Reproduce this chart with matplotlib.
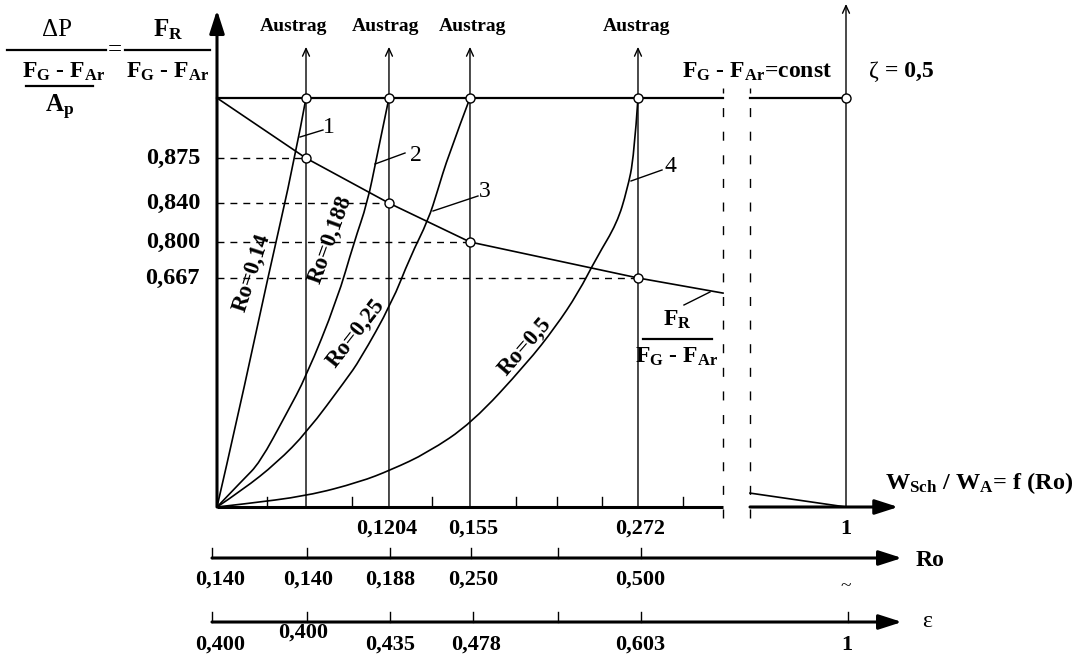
import numpy as np
import matplotlib.pyplot as plt
from matplotlib.path import Path
from matplotlib.patches import PathPatch

plt.rcParams['font.family'] = 'Liberation Serif'
plt.rcParams['mathtext.fontset'] = 'custom'
plt.rcParams['mathtext.rm'] = 'Liberation Serif'
plt.rcParams['mathtext.it'] = 'Liberation Serif:italic'
plt.rcParams['mathtext.bf'] = 'Liberation Serif:bold'

# Schema-Einheiten: x = 0 an der Ordinate, x = 1 bei W_Sch/W_A = 1
#                   y = 0 an der Abszisse, y = 1 bei F_G - F_Ar = const

# Austrag-Linien (Spalten) und Verhaeltnis-Werte
col_x = [0.1415, 0.2734, 0.4022, 0.6693]
ratio_labels = ['0,875', '0,840', '0,800', '0,667']
ratio_y = [0.853, 0.743, 0.648, 0.560]

# Kurve F_R / (F_G - F_Ar)
fr_x = [0.0, 0.1415, 0.2734, 0.4022, 0.6693, 0.8045]
fr_y = [1.0, 0.853, 0.743, 0.648, 0.560, 0.523]
fr2_x = [0.8474, 1.0]
fr2_y = [0.034, 0.0]

# Kurven W_Sch/W_A = f(Ro)
ro014_x = [0.0, 0.032, 0.080, 0.124, 0.1415]
ro014_y = [0.0, 0.213, 0.555, 0.853, 1.0]
ro0188_x = [0.0, 0.041, 0.068, 0.111, 0.1415, 0.191, 0.218, 0.239, 0.254, 0.2734]
ro0188_y = [0.0, 0.066, 0.108, 0.230, 0.318, 0.506, 0.648, 0.743, 0.856, 1.0]
ro025_x = [0.0, 0.041, 0.095, 0.143, 0.205, 0.227, 0.278, 0.307, 0.336, 0.351, 0.367, 0.4022]
ro025_y = [0.0, 0.042, 0.108, 0.183, 0.311, 0.359, 0.499, 0.611, 0.702, 0.775, 0.856, 1.0]
ro05_x = [0.0, 0.041, 0.143, 0.227, 0.277, 0.334, 0.405, 0.493, 0.538, 0.574, 0.604,
          0.636, 0.652, 0.663, 0.6693]
ro05_y = [0.0, 0.007, 0.027, 0.061, 0.091, 0.132, 0.205, 0.352, 0.440, 0.523, 0.611,
          0.694, 0.775, 0.856, 1.0]

# Achsen-Beschriftungen
w_ticks = [0.0795, 0.2146, 0.3418, 0.4754, 0.5405, 0.6121, 0.7409]
w_labels = ['0,1204', '0,155', '0,272', '1']
w_label_x = [0.2703, 0.407, 0.6725, 1.0]
ro_ticks = [-0.008, 0.1431, 0.2750, 0.4038, 0.5421, 0.6741]
ro_labels = ['0,140', '0,140', '0,188', '0,250', '0,500']
ro_label_x = [0.005, 0.1447, 0.275, 0.407, 0.6725]
eps_ticks = [-0.008, 0.1431, 0.2750, 0.4070, 0.5421, 0.6741, 1.003]
eps_labels = ['0,400', '0,400', '0,435', '0,478', '0,603', '1']
eps_label_x = [0.005, 0.137, 0.275, 0.412, 0.6725, 1.002]

fig = plt.figure(figsize=(10.88, 6.62), dpi=100)
ax = fig.add_axes([217 / 1088, 155 / 662, 629 / 1088, 409 / 662])
ax.set_xlim(0, 1)
ax.set_ylim(0, 1)
ax.set_axis_off()

k = 'black'
thin = 1.0
bold = dict(fontweight='bold')
big_head = '-|>,head_length=1.4,head_width=0.45'
small_head = '->,head_length=0.55,head_width=0.25'


def arrow(x0, y0, x1, y1, lw, style):
    ax.annotate('', xy=(x1, y1), xytext=(x0, y0), annotation_clip=False,
                arrowprops=dict(arrowstyle=style, lw=lw, color=k,
                                shrinkA=0, shrinkB=0))


def smooth_curve(xs, ys, lw=1.2):
    # glatter Linienzug: Stuetzpunkte als Kontrollpunkte quadratischer Bezier-Stuecke
    p = list(zip(xs, ys))
    verts = [p[0]]
    codes = [Path.MOVETO]
    for i in range(1, len(p) - 1):
        if i < len(p) - 2:
            end = ((p[i][0] + p[i + 1][0]) / 2, (p[i][1] + p[i + 1][1]) / 2)
        else:
            end = p[-1]
        verts += [p[i], end]
        codes += [Path.CURVE3, Path.CURVE3]
    ax.add_patch(PathPatch(Path(verts, codes), fill=False, ec=k, lw=lw, clip_on=False))


# Ordinate und Abszissen
arrow(0, 0, 0, 1.215, 2.2, big_head)
ax.plot([0, 0.8045], [0, 0], color=k, lw=2.2, clip_on=False, solid_capstyle='butt')
arrow(0.8474, 0, 1.083, 0, 2.2, big_head)
arrow(-0.008, -0.1247, 1.089, -0.1247, 2.2, big_head)
arrow(-0.008, -0.2812, 1.089, -0.2812, 2.2, big_head)

for t in w_ticks:
    ax.plot([t, t], [0, 0.025], color=k, lw=thin, clip_on=False)
for t in ro_ticks:
    ax.plot([t, t], [-0.1247, -0.1], color=k, lw=thin, clip_on=False)
for t in eps_ticks:
    ax.plot([t, t], [-0.2812, -0.2565], color=k, lw=thin, clip_on=False)

# Linie F_G - F_Ar = const
ax.plot([0, 0.8045], [1, 1], color=k, lw=1.6, clip_on=False)
ax.plot([0.8474, 1.0], [1, 1], color=k, lw=1.6, clip_on=False)

# Austrag-Linien
for x in col_x:
    arrow(x, 0, x, 1.125, thin, small_head)
arrow(1.0, 0, 1.0, 1.23, thin, small_head)

# Unterbrechung
for x in [0.8045, 0.8474]:
    ax.plot([x, x], [-0.027, 1.0244], color=k, lw=thin, dashes=(6.5, 10.5), clip_on=False)

# Gestrichelte Hilfslinien
for x, y, lab in zip(col_x, ratio_y, ratio_labels):
    ax.plot([0, x], [y, y], color=k, lw=thin, dashes=(5, 4.3), clip_on=False)
    ax.text(-0.027, y, lab, ha='right', va='center', fontsize=17.5, **bold)

# Kurven
ax.plot(fr_x, fr_y, color=k, lw=1.2, clip_on=False)
ax.plot(fr2_x, fr2_y, color=k, lw=1.2, clip_on=False)
for cx, cy in [(ro014_x, ro014_y), (ro0188_x, ro0188_y), (ro025_x, ro025_y), (ro05_x, ro05_y)]:
    smooth_curve(cx, cy)

# Punkte
ax.plot(col_x + [1.0], [1.0] * 5, 'o', ms=6.5, mfc='white', mec=k, mew=1.0,
        clip_on=False, zorder=5)
ax.plot(col_x, ratio_y, 'o', ms=6.5, mfc='white', mec=k, mew=1.0,
        clip_on=False, zorder=5)

# Beschriftungen oben
for x in [0.1224, 0.2687, 0.407, 0.6677]:
    ax.text(x, 1.1736, 'Austrag', ha='center', va='center', fontsize=14, **bold)
ax.text(0.858, 1.064, r'$\mathbf{F_G}$ - $\mathbf{F_{Ar}}$=const', ha='center',
        va='center', fontsize=17, **bold)
ax.text(1.0366, 1.064, 'ζ', ha='left', va='center', fontsize=17)
ax.text(1.062, 1.064, '= 0,5', ha='left', va='center', fontsize=17, **bold)

# Formel links oben
ax.text(-0.2544, 1.1663, 'ΔP', ha='center', va='center', fontsize=18)
ax.plot([-0.3339, -0.1765], [1.1174, 1.1174], color=k, lw=1.6, clip_on=False)
ax.text(-0.1622, 1.1174, '=', ha='center', va='center', fontsize=18)
ax.plot([-0.1463, -0.0111], [1.1174, 1.1174], color=k, lw=1.6, clip_on=False)
ax.text(-0.0779, 1.1663, r'$\mathbf{F_R}$', ha='center', va='center', fontsize=18)
ax.text(-0.2432, 1.0636, r'$\mathbf{F_G}$ - $\mathbf{F_{Ar}}$', ha='center',
        va='center', fontsize=17, **bold)
ax.plot([-0.3037, -0.1971], [1.0293, 1.0293], color=k, lw=1.6, clip_on=False)
ax.text(-0.2496, 0.978, r'$\mathbf{A_p}$', ha='center', va='center', fontsize=18)
ax.text(-0.0779, 1.0636, r'$\mathbf{F_G}$ - $\mathbf{F_{Ar}}$', ha='center',
        va='center', fontsize=17, **bold)

# Bruch an der Kurve
ax.plot([0.7424, 0.7838], [0.4939, 0.5257], color=k, lw=thin, clip_on=False)
ax.text(0.7313, 0.4572, r'$\mathbf{F_R}$', ha='center', va='center', fontsize=17)
ax.plot([0.6773, 0.787], [0.4108, 0.4108], color=k, lw=1.6, clip_on=False)
ax.text(0.7313, 0.3667, r'$\mathbf{F_G}$ - $\mathbf{F_{Ar}}$', ha='center',
        va='center', fontsize=17, **bold)

# Kurvennummern
for num, tx, ty, lx, ly in [('1', 0.178, 0.929, [0.132, 0.1685], [0.9046, 0.9218]),
                           ('2', 0.3164, 0.8606, [0.2512, 0.2989], [0.8386, 0.8655]),
                           ('3', 0.4261, 0.7702, [0.3434, 0.4149], [0.7237, 0.7604]),
                           ('4', 0.7202, 0.8313, [0.6582, 0.7075], [0.7971, 0.8240])]:
    ax.plot(lx, ly, color=k, lw=thin, clip_on=False)
    ax.text(tx, ty, num, ha='center', va='center', fontsize=17)

# Ro-Beschriftungen an den Kurven
for lab, x, y, rot in [('Ro=0,14', 0.0556, 0.5721, 72), ('Ro=0,188', 0.1797, 0.6528, 70),
                       ('Ro=0,25', 0.221, 0.4254, 52), ('Ro=0,5', 0.4897, 0.3912, 49)]:
    ax.text(x, y, lab, ha='center', va='center', rotation=rot, rotation_mode='anchor',
            fontsize=16.5, **bold)

# Achsentitel
ax.text(1.062, 0.0587, r'$\mathbf{W_{Sch}}$ / $\mathbf{W_A}$= f (Ro)', ha='left',
        va='center', fontsize=17.5, **bold)
ax.text(1.11, -0.13, 'Ro', ha='left', va='center', fontsize=17, **bold)
ax.text(1.121, -0.281, 'ε', ha='left', va='center', fontsize=17)

# Werte unter den Achsen
for x, lab in zip(w_label_x, w_labels):
    ax.text(x, -0.0538, lab, ha='center', va='center', fontsize=16, **bold)
for x, lab in zip(ro_label_x, ro_labels):
    ax.text(x, -0.1785, lab, ha='center', va='center', fontsize=16, **bold)
ax.text(1.0, -0.1956, '~', ha='center', va='center', fontsize=14)
for i, (x, lab) in enumerate(zip(eps_label_x, eps_labels)):
    y = -0.308 if i == 1 else -0.3374
    ax.text(x, y, lab, ha='center', va='center', fontsize=16, **bold)

fig.savefig('out.png', dpi=100, facecolor='white')
